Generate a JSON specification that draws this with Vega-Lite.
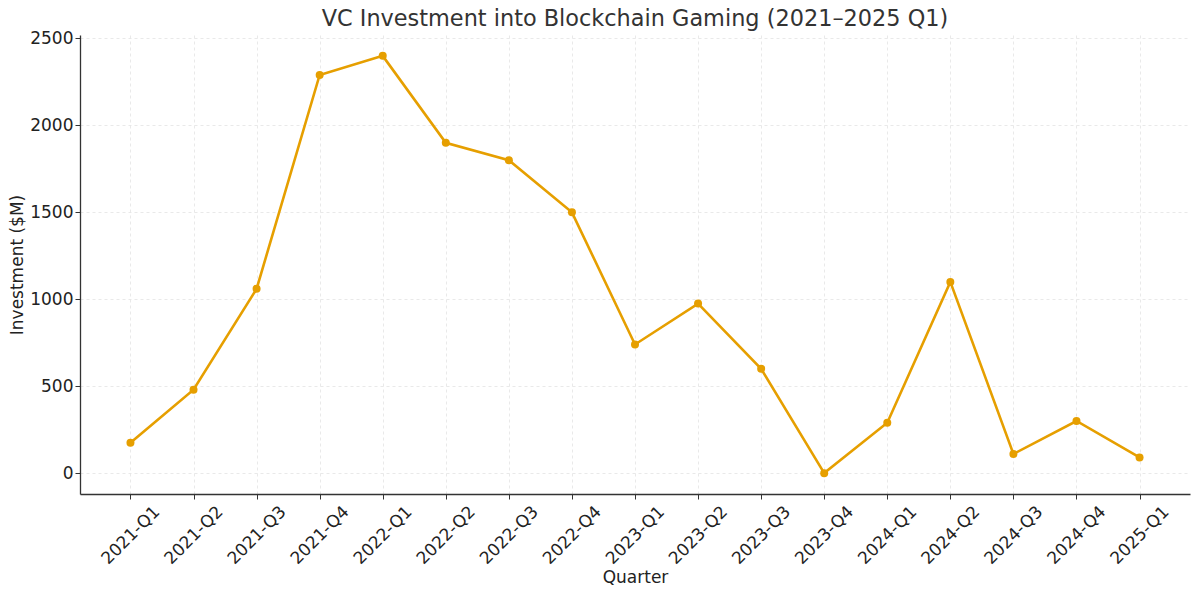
{
  "$schema": "https://vega.github.io/schema/vega-lite/v6.json",
  "width": 1110,
  "height": 459,
  "autosize": {"type": "none"},
  "padding": {"left": 80, "top": 35, "right": 10, "bottom": 101},
  "background": "white",
  "title": {
    "text": "VC Investment into Blockchain Gaming (2021–2025 Q1)",
    "font": "DejaVu Sans",
    "fontSize": 22.4,
    "fontWeight": "normal",
    "color": "#333333",
    "offset": -1,
    "anchor": "middle"
  },
  "config": {
    "view": {"stroke": null},
    "axis": {
      "labelFont": "DejaVu Sans",
      "titleFont": "DejaVu Sans",
      "labelFontSize": 17,
      "titleFontSize": 17,
      "titleFontWeight": "normal",
      "labelColor": "#222222",
      "titleColor": "#222222",
      "domainColor": "#333333",
      "domainWidth": 1.3,
      "tickColor": "#333333",
      "tickSize": 5,
      "grid": true,
      "gridColor": "#e3e3e3",
      "gridDash": [3, 3],
      "gridWidth": 0.8
    }
  },
  "data": {
    "values": [
      {"quarter": "2021-Q1", "investment": 175},
      {"quarter": "2021-Q2", "investment": 480},
      {"quarter": "2021-Q3", "investment": 1060},
      {"quarter": "2021-Q4", "investment": 2290},
      {"quarter": "2022-Q1", "investment": 2400},
      {"quarter": "2022-Q2", "investment": 1900},
      {"quarter": "2022-Q3", "investment": 1800},
      {"quarter": "2022-Q4", "investment": 1500},
      {"quarter": "2023-Q1", "investment": 740},
      {"quarter": "2023-Q2", "investment": 975},
      {"quarter": "2023-Q3", "investment": 600},
      {"quarter": "2023-Q4", "investment": 0},
      {"quarter": "2024-Q1", "investment": 290},
      {"quarter": "2024-Q2", "investment": 1100},
      {"quarter": "2024-Q3", "investment": 110},
      {"quarter": "2024-Q4", "investment": 300},
      {"quarter": "2025-Q1", "investment": 90}
    ]
  },
  "encoding": {
    "x": {
      "field": "quarter",
      "type": "ordinal",
      "sort": null,
      "scale": {"type": "point", "padding": 0.8},
      "axis": {
        "title": "Quarter",
        "labelAngle": -45,
        "labelAlign": "center",
        "labelBaseline": "middle",
        "labelPadding": 36,
        "titlePadding": 3
      }
    },
    "y": {
      "field": "investment",
      "type": "quantitative",
      "scale": {"domain": [-120, 2520], "nice": false, "zero": false},
      "axis": {
        "title": "Investment ($M)",
        "format": "d",
        "values": [0, 500, 1000, 1500, 2000, 2500],
        "labelPadding": 2,
        "titlePadding": 3
      }
    }
  },
  "mark": {
    "type": "line",
    "color": "#E69F00",
    "strokeWidth": 2.6,
    "point": {"filled": true, "size": 64, "color": "#E69F00"}
  }
}
